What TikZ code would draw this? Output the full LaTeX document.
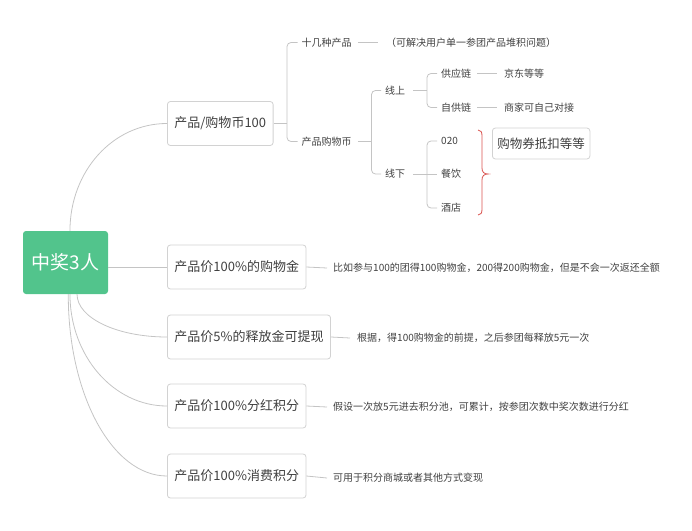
\documentclass[tikz,border=0pt]{standalone}
\usepackage{fontspec}
\setmainfont{Noto Sans CJK SC}
\definecolor{linec}{HTML}{C4C4C4}
\definecolor{boxc}{HTML}{D2D2D2}
\definecolor{txt}{HTML}{404040}
\definecolor{greenc}{HTML}{52C48C}
\definecolor{bracec}{HTML}{D9534F}
\begin{document}
\begin{tikzpicture}[x=1pt,y=-1pt,
 line/.style={draw=linec, line width=0.8pt},
 central/.style={fill=greenc, rounded corners=3pt, text=white, font=\fontsize{19}{22}\selectfont, minimum width=85pt, minimum height=63pt, inner sep=0pt},
 topic/.style={draw=boxc, rounded corners=3pt, line width=0.8pt, fill=white, text=txt, font=\fontsize{13}{15}\selectfont, inner xsep=7pt, minimum height=44pt, anchor=west},
 note/.style={draw=boxc, rounded corners=3pt, line width=0.8pt, fill=white, text=txt, font=\fontsize{12.5}{14}\selectfont, inner xsep=5pt, minimum height=31pt, anchor=west},
 sub/.style={text=txt, font=\fontsize{10}{12}\selectfont, inner sep=0pt, anchor=west},
]
\useasboundingbox (0,0) rectangle (692,530);

% main nodes
\node[central] (c) at (65.5,262.5) {中奖3人};
\node[topic] (t1) at (167,123.5) {产品/购物币100};
\node[topic] (t2) at (167,267) {产品价100\%的购物金};
\node[topic] (t3) at (167,337) {产品价5\%的释放金可提现};
\node[topic] (t4) at (167,406) {产品价100\%分红积分};
\node[topic] (t5) at (167,476) {产品价100\%消费积分};

% sub nodes
\node[sub] (a1) at (301.5,42.5) {十几种产品};
\node[sub] (a1n) at (386,42.5) {（可解决用户单一参团产品堆积问题）};
\node[sub] (a2) at (301.5,141.5) {产品购物币};
\node[sub] (b1) at (385,90.5) {线上};
\node[sub] (b2) at (385,174) {线下};
\node[sub] (d1) at (441,73.5) {供应链};
\node[sub] (d1n) at (504,73.5) {京东等等};
\node[sub] (d2) at (441,107.5) {自供链};
\node[sub] (d2n) at (504,107.5) {商家可自己对接};
\node[sub] (e1) at (441,141) {020};
\node[sub] (e2) at (441,174) {餐饮};
\node[sub] (e3) at (441,208) {酒店};
\node[note] (q) at (492,143.5) {购物券抵扣等等};

% detail texts
\node[sub] (g2) at (333,268) {比如参与100的团得100购物金，200得200购物金，但是不会一次返还全额};
\node[sub] (g3) at (357,338) {根据，得100购物金的前提，之后参团每释放5元一次};
\node[sub] (g4) at (333,407) {假设一次放5元进去积分池，可累计，按参团次数中奖次数进行分红};
\node[sub] (g5) at (333,478) {可用于积分商城或者其他方式变现};

% central connectors
\draw[line] (c.82) .. controls (70,171) and (113,123.5) .. (t1.west);
\draw[line] (c.east |- t2.west) -- (t2.west);
\draw[line] (c.-70) .. controls (77,318) and (117,337) .. (t3.west);
\draw[line] (c.-82) .. controls (70,356) and (113.5,406) .. (t4.west);
\draw[line] (c.-85) .. controls (68,394) and (112,476) .. (t5.west);

% detail connectors
\draw[line] (t2.east) -- ([xshift=-6pt]g2.west);
\draw[line] (t3.east) -- ([xshift=-7pt]g3.west);
\draw[line] (t4.east) -- ([xshift=-6pt]g4.west);
\draw[line] (t5.east) -- ([xshift=-6pt]g5.west);

% tree of topic 1
\coordinate (k1) at (287,123.5);
\draw[line] (t1.east) -- (k1);
\draw[line, rounded corners=4pt] ([xshift=-4pt]a1.west) -| (k1) |- ([xshift=-4pt]a2.west);
\draw[line] ([xshift=6pt]a1.east) -- ([xshift=-8pt]a1n.west);

\coordinate (k2) at (371.5,141.5);
\draw[line] ([xshift=6pt]a2.east) -- (k2);
\draw[line, rounded corners=4pt] ([xshift=-4pt]b1.west) -| (k2) |- ([xshift=-4pt]b2.west);

\coordinate (k3) at (427,90.5);
\draw[line] ([xshift=8pt]b1.east) -- (k3);
\draw[line, rounded corners=4pt] ([xshift=-4pt]d1.west) -| (k3) |- ([xshift=-4pt]d2.west);
\draw[line] ([xshift=6pt]d1.east) -- ([xshift=-7pt]d1n.west);
\draw[line] ([xshift=6pt]d2.east) -- ([xshift=-7pt]d2n.west);

\coordinate (k4) at (427,174);
\draw[line] ([xshift=8pt]b2.east) -- ([xshift=-4pt]e2.west);
\draw[line, rounded corners=4pt] ([xshift=-4pt]e1.west) -| (k4) |- ([xshift=-4pt]e3.west);

% red brace
\draw[bracec, line width=0.8pt] (478,130) .. controls (481,130) and (482,132) .. (482,136)
  -- (482,168) .. controls (482,172) and (484,174) .. (488,174)
  .. controls (484,174) and (482,176) .. (482,180)
  -- (482,209) .. controls (482,213) and (481,215) .. (478,215);
\end{tikzpicture}
\end{document}
